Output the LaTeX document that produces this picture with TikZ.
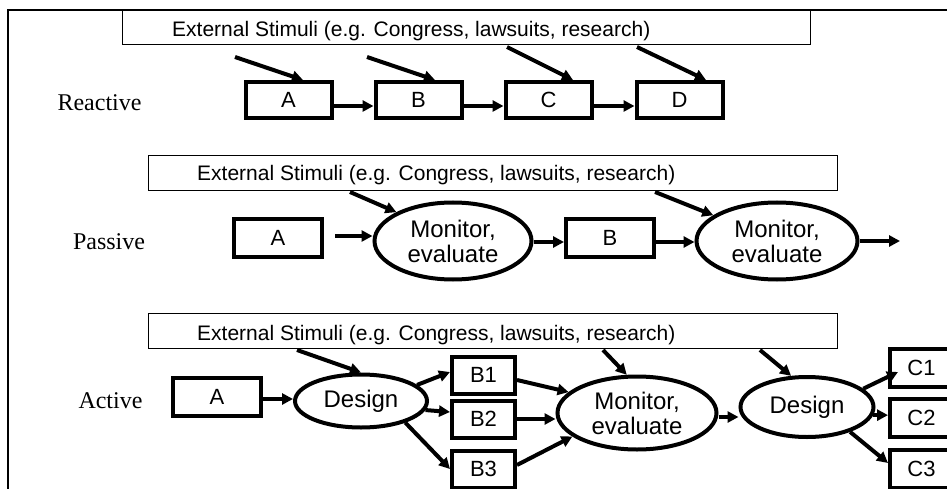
\documentclass[tikz,border=0pt]{standalone}
\usepackage{fontspec}
\setmainfont{Liberation Sans}
\newfontfamily\tnr{Liberation Serif}
\usetikzlibrary{shapes.geometric,arrows.meta}
\begin{document}
\begin{tikzpicture}[x=1pt,y=-1pt,
  box/.style={draw, line width=4pt, inner sep=0pt, font=\fontsize{22}{24}\selectfont},
  ell/.style={draw, ellipse, line width=4pt, inner sep=0pt, align=center, font=\fontsize{24}{25}\selectfont},
  arr/.style={line width=4pt, -{Triangle[length=11pt,width=11pt]}},
  stim/.style={draw, line width=1.2pt, inner sep=0pt, anchor=north west},
  stimtext/.style={font=\fontsize{21}{23}\selectfont, anchor=base west, inner sep=0pt},
  lab/.style={font=\tnr\fontsize{24}{26}\selectfont, anchor=base, inner sep=0pt}]
\useasboundingbox (0,0) rectangle (947,489);
% frame
\draw[line width=2pt] (8,489) -- (8,10) -- (947,10);

% ---------------- Reactive ----------------
\node[stim, minimum width=688pt, minimum height=34pt] (s1) at (122,10) {};
\node[stimtext] (t1) at (172,37) {External Stimuli (e.g. Congress, lawsuits, research)};
\node[lab] (lr) at (99.5,111) {Reactive};
\node[box, minimum width=86pt, minimum height=36pt] (rA) at (288.5,100) {A};
\node[box, minimum width=86pt, minimum height=36pt] (rB) at (418.5,100) {B};
\node[box, minimum width=86pt, minimum height=36pt] (rC) at (548.5,100) {C};
\node[box, minimum width=86pt, minimum height=36pt] (rD) at (679.5,100) {D};
\draw[arr] ([yshift=-6pt]rA.east) -- ([yshift=-6pt]rB.west);
\draw[arr] ([yshift=-6pt]rB.east) -- ([yshift=-6pt]rC.west);
\draw[arr] ([yshift=-6pt]rC.east) -- ([yshift=-6pt]rD.west);
\coordinate (r1) at (235,57);
\coordinate (r2) at (367,57);
\coordinate (r3) at (507,47);
\coordinate (r4) at (637,47);
\draw[arr] (r1) -- ([xshift=14.5pt]rA.north);
\draw[arr] (r2) -- ([xshift=16.5pt]rB.north);
\draw[arr] (r3) -- ([xshift=24.5pt]rC.north);
\draw[arr] (r4) -- ([xshift=26.5pt]rD.north);

% ---------------- Passive ----------------
\node[stim, minimum width=689pt, minimum height=35pt] (s2) at (148,155) {};
\node[stimtext] (t2) at (197,181) {External Stimuli (e.g. Congress, lawsuits, research)};
\node[lab] (lp) at (109,249) {Passive};
\node[box, minimum width=88pt, minimum height=38pt] (pA) at (278,238) {A};
\node[ell, minimum width=157pt, minimum height=77pt] (pE1) at (453,241) {Monitor,\\evaluate};
\node[box, minimum width=88pt, minimum height=38pt] (pB) at (610,238) {B};
\node[ell, minimum width=161pt, minimum height=77pt] (pE2) at (777,241) {Monitor,\\evaluate};
\coordinate (pout) at (900,241);
\draw[arr] ([xshift=11pt,yshift=2pt]pA.east) -- ([yshift=2pt]pA.east -| pE1.west);
\draw[arr] ([yshift=-1pt]pE1.east) -- ([yshift=-1pt]pE1.east -| pB.west);
\draw[arr] ([yshift=-4pt]pB.east) -- ([yshift=-4pt]pB.east -| pE2.west);
\draw[arr] (pE2.east) -- (pout);
\coordinate (p1) at (350,192);
\coordinate (p2) at (655,192);
\draw[arr] (p1) -- (pE1.153);
\draw[arr] (p2) -- (pE2.158);

% ---------------- Active ----------------
\node[stim, minimum width=689pt, minimum height=35pt] (s3) at (148,313) {};
\node[stimtext] (t3) at (197,340) {External Stimuli (e.g. Congress, lawsuits, research)};
\node[lab] (la) at (110.5,408) {Active};
\node[box, minimum width=88pt, minimum height=38pt] (aA) at (217,397) {A};
\node[ell, minimum width=132pt, minimum height=53pt] (aD1) at (361,401) {Design};
\node[box, minimum width=63pt, minimum height=37pt] (aB1) at (483.5,375) {B1};
\node[box, minimum width=63pt, minimum height=37pt] (aB2) at (483.5,419) {B2};
\node[box, minimum width=63pt, minimum height=37pt] (aB3) at (483.5,469) {B3};
\node[ell, minimum width=159pt, minimum height=73pt] (aM) at (637,413) {Monitor,\\evaluate};
\node[ell, minimum width=133pt, minimum height=60pt] (aD2) at (807,407) {Design};
\node[box, minimum width=63pt, minimum height=38pt] (aC1) at (921.5,368) {C1};
\node[box, minimum width=63pt, minimum height=38pt] (aC2) at (921.5,418) {C2};
\node[box, minimum width=63pt, minimum height=38pt] (aC3) at (921.5,469) {C3};
\draw[arr] ([yshift=-2pt]aA.east) -- ([yshift=-2pt]aA.east -| aD1.west);
\draw[arr] (aD1.16) -- ([yshift=3pt]aB1.west);
\draw[arr] (aD1.-8) -- ([yshift=7pt]aB2.west);
\draw[arr] (aD1.-26) -- (aB3.west);
\draw[arr] ([yshift=-5pt]aB1.east) -- (aM.163);
\draw[arr] (aB2.east) -- (aB2.east -| aM.west);
\draw[arr] ([yshift=4pt]aB3.east) -- (aM.200);
\draw[arr] ([yshift=-4pt]aM.east) -- ([yshift=-4pt]aM.east -| aD2.west);
\draw[arr] (aD2.18) -- ([xshift=10pt,yshift=-4pt]aC1.west);
\draw[arr] (aD2.-7) -- (aD2.-7 -| aC2.west);
\draw[arr] (aD2.-30) -- ([yshift=6pt]aC3.west);
\coordinate (a1) at (297,350);
\coordinate (a2) at (603,350);
\coordinate (a3) at (760,350);
\draw[arr] (a1) -- (aD1.north);
\draw[arr] (a2) -- (aM.105);
\draw[arr] (a3) -- (aD2.117);
\end{tikzpicture}
\end{document}
